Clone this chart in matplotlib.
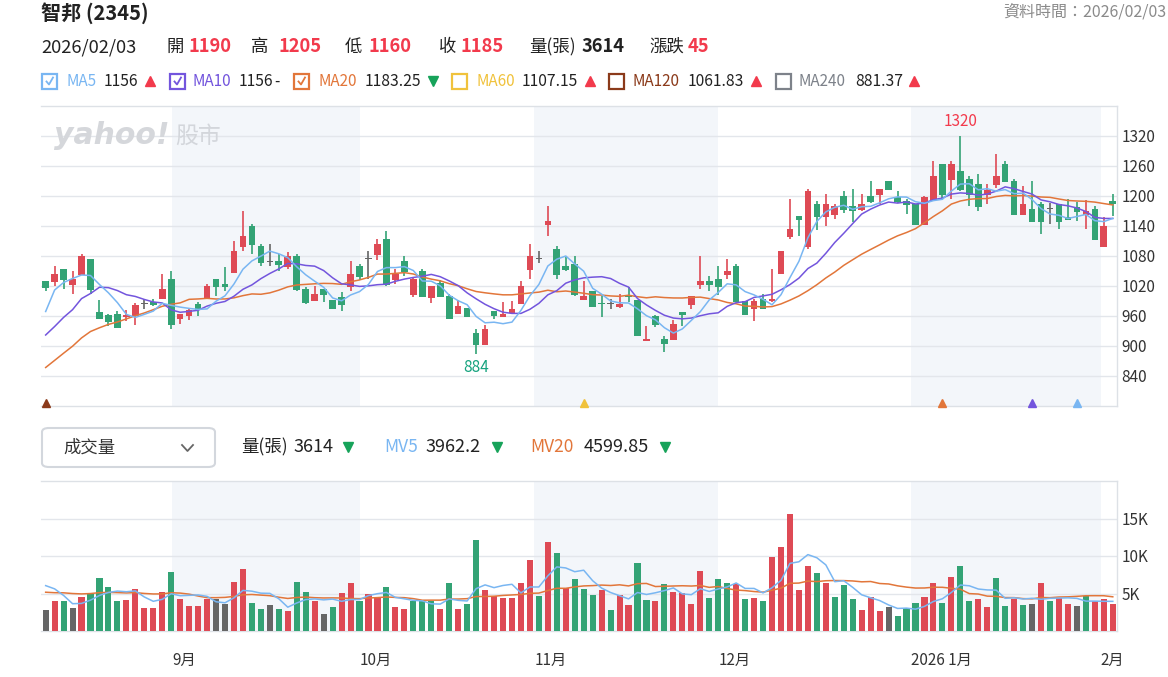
import numpy as np
import matplotlib
matplotlib.use('Agg')
import matplotlib.pyplot as plt
from matplotlib.patches import Rectangle, FancyBboxPatch
from matplotlib.lines import Line2D
import matplotlib.transforms as mtrans

plt.rcParams['font.family'] = ['Noto Sans CJK TC', 'DejaVu Sans']

# ---------------- data ----------------
opens = [1030, 1029, 1055, 1023, 1043, 1075, 968, 962, 965, 959,
         960, 985, 989, 995, 1035, 955, 960, 985, 994, 1035,
         1025, 1047, 1099, 1140, 1100, 1069, 1070, 1059, 1081, 1015,
         991, 1015, 992, 999, 1019, 1061, 1074, 1082, 1115, 1032,
         1070, 1002, 1050, 997, 1027, 1000, 965, 977, 927, 903,
         970, 959, 967, 985, 1053, 1074, 1143, 1095, 1061, 1065,
         992, 1011, 987, 984, 979, 1003, 992, 911, 960, 915,
         912, 969, 983, 1023, 1030, 1035, 1043, 1061, 990, 974,
         994, 991, 1044, 1119, 1160, 1099, 1185, 1159, 1163, 1200,
         1180, 1172, 1200, 1202, 1230, 1199, 1190, 1185, 1143, 1192,
         1265, 1233, 1250, 1235, 1225, 1202, 1222, 1265, 1230, 1162,
         1175, 1185, 1175, 1185, 1159, 1179, 1163, 1175, 1099, 1190]
highs = [1031, 1061, 1055, 1050, 1085, 1075, 992, 965, 970, 972,
         987, 994, 994, 1045, 1050, 965, 975, 989, 1025, 1035,
         1059, 1110, 1170, 1145, 1104, 1104, 1084, 1089, 1084, 1019,
         1020, 1015, 992, 1009, 1070, 1065, 1090, 1115, 1130, 1055,
         1080, 1039, 1055, 1020, 1032, 1005, 992, 977, 935, 942,
         970, 989, 990, 1030, 1105, 1090, 1180, 1100, 1079, 1080,
         1030, 1011, 1001, 994, 1005, 1019, 992, 940, 963, 920,
         952, 969, 1000, 1080, 1041, 1061, 1075, 1065, 990, 995,
         1005, 1055, 1090, 1195, 1160, 1215, 1190, 1205, 1185, 1210,
         1215, 1205, 1230, 1215, 1230, 1210, 1195, 1185, 1200, 1270,
         1265, 1270, 1320, 1240, 1245, 1225, 1285, 1270, 1235, 1220,
         1230, 1188, 1187, 1185, 1195, 1189, 1193, 1180, 1159, 1205]
lows = [1011, 1021, 1015, 1005, 1043, 1005, 955, 941, 937, 951,
        943, 975, 980, 995, 935, 945, 952, 960, 994, 1000,
        1011, 1047, 1090, 1085, 1061, 1061, 1051, 1055, 1011, 985,
        991, 989, 975, 971, 1011, 1032, 1035, 1072, 1020, 1025,
        1041, 999, 999, 987, 999, 955, 965, 959, 884, 903,
        955, 959, 965, 984, 1035, 1067, 1120, 1035, 1050, 1000,
        992, 979, 959, 975, 977, 989, 921, 911, 939, 889,
        912, 940, 975, 1015, 1010, 1002, 1035, 989, 963, 951,
        975, 989, 1044, 1115, 1120, 1095, 1132, 1140, 1155, 1167,
        1149, 1170, 1187, 1185, 1213, 1187, 1165, 1143, 1143, 1190,
        1192, 1195, 1210, 1180, 1171, 1185, 1217, 1229, 1162, 1162,
        1149, 1125, 1145, 1135, 1153, 1151, 1135, 1112, 1099, 1160]
closes = [1017, 1045, 1032, 1035, 1081, 1012, 955, 949, 937, 963,
          982, 985, 982, 1015, 942, 965, 972, 972, 1020, 1019,
          1019, 1090, 1120, 1103, 1067, 1069, 1063, 1081, 1012, 987,
          1005, 1002, 975, 983, 1045, 1039, 1074, 1104, 1022, 1045,
          1049, 1035, 999, 1020, 999, 955, 980, 959, 903, 935,
          961, 965, 975, 1020, 1081, 1074, 1150, 1043, 1052, 1002,
          1001, 979, 984, 984, 984, 999, 921, 915, 943, 905,
          945, 963, 1000, 1030, 1023, 1019, 1050, 989, 963, 990,
          975, 995, 1090, 1134, 1153, 1210, 1159, 1185, 1180, 1173,
          1170, 1185, 1189, 1215, 1213, 1189, 1183, 1143, 1199, 1240,
          1202, 1265, 1213, 1203, 1179, 1213, 1240, 1229, 1162, 1185,
          1149, 1149, 1175, 1149, 1153, 1169, 1170, 1112, 1140, 1185]
volumes = [2860, 3950, 3950, 3030, 4600, 5040, 7100, 5920, 3950, 4170,
           5620, 3030, 3030, 5260, 7900, 4300, 3290, 3290, 4300, 4300,
           3640, 6580, 8250, 3770, 2980, 3510, 2980, 2630, 6580, 5260,
           3950, 2330, 3160, 5090, 6450, 3950, 4960, 4430, 5920, 3160,
           2980, 3950, 4080, 3950, 2980, 6450, 2980, 3640, 12190, 5480,
           4610, 4430, 4430, 6450, 9430, 4610, 11840, 10400, 5750, 6930,
           5610, 4820, 5480, 2810, 4820, 3470, 9080, 4170, 3950, 6270,
           5260, 5090, 3640, 7940, 4430, 6930, 6450, 6270, 4300, 4430,
           3950, 9870, 11190, 15660, 5480, 8730, 7760, 6450, 4470, 6100,
           4300, 2810, 4470, 2630, 3160, 1970, 3030, 3770, 4470, 6450,
           3770, 7240, 8730, 3950, 4300, 3160, 7110, 3290, 4300, 3470,
           3640, 6450, 3950, 4430, 3640, 3290, 4610, 3950, 4300, 3614]
# change vs previous close: r = up, g = down, n = unchanged
vol_dir = ("nrgnrggggr" "rrrrgrrrrn" "nrrggngrgg" "rngrrgrrgr"
           "rgggrgrggr" "rrrrrgrgrg" "ggrgrrggrg" "rrrrgggrgr"
           "grrrrrgrgg" "grrrngggrr" "grggrrggrg" "nrgrrngrrr")
# closes / volumes of the 19 sessions before the visible window
pre_closes = [760, 745, 755, 750, 755, 805, 815, 840, 840, 855,
              875, 850, 880, 860, 910, 830, 957, 995, 1046]
pre_volumes = [5200, 4300, 4900, 5600, 4100, 4700, 5300, 4500, 5000, 4800,
               5200, 4400, 5100, 4850, 5200, 6100, 8350, 8530, 4410]

price_ticks = [840, 900, 960, 1020, 1080, 1140, 1200, 1260, 1320]
vol_ticks = [5000, 10000, 15000]
vol_tick_labels = ['5K', '10K', '15K']
month_labels = ['9月', '10月', '11月', '12月', '2026 1月', '2月']
month_pos = [14.1, 35.0, 54.5, 75.0, 96.5, 117.65]
shade_bands = [(14.1, 35.0), (54.5, 75.0), (96.5, 117.65)]
signal_idx = [0, 60, 100, 110, 115]
signal_colors = ['#8b3a1a', '#f0c23c', '#e2763a', '#7355dd', '#79b6f2']

# ---------------- style ----------------
RED = '#de4a55'
GREEN = '#33a375'
GRAY = '#666666'
C_MA5 = '#79b6f2'
C_MA10 = '#7355dd'
C_MA20 = '#e2763a'
C_MA60 = '#f0c23c'
C_MA120 = '#8b3a1a'
C_MA240 = '#7d828a'
SHADE = '#f3f6fa'
GRID = '#e3e6eb'
TXT = '#222222'
HRED = '#f23a4c'
HGREEN = '#17a35a'

W, H = 1168, 677
fig = plt.figure(figsize=(W / 100, H / 100), dpi=100)
fig.patch.set_facecolor('white')

N = len(closes)
x = np.arange(N)
o = np.array(opens, float)
c = np.array(closes, float)
hi = np.array(highs, float)
lo = np.array(lows, float)
v = np.array(volumes, float)


def sma(a, n):
    return np.convolve(a, np.ones(n) / n, mode='valid')


allc = np.array(pre_closes + closes, float)
ma5 = sma(allc, 5)[-N:]
ma10 = sma(allc, 10)[-N:]
ma20 = sma(allc, 20)[-N:]
allv = np.array(pre_volumes + volumes, float)
mv5 = sma(allv, 5)[-N:]
mv20 = sma(allv, 20)[-N:]

XL = (-0.52, 119.47)


def axbox(l, t, r, b):
    return [l / W, 1 - b / H, (r - l) / W, (b - t) / H]


def style_axis(ax):
    ax.set_xlim(*XL)
    ax.set_axisbelow(True)
    ax.grid(axis='y', color=GRID, lw=1.0)
    ax.grid(axis='x', visible=False)
    ax.spines['left'].set_visible(False)
    for s in ['top', 'bottom', 'right']:
        ax.spines[s].set_color('#dde1e6')
        ax.spines[s].set_linewidth(1.0)
    ax.yaxis.tick_right()
    ax.tick_params(axis='y', length=0, pad=3, labelsize=11, labelcolor='#333333')
    ax.set_xticks([])
    for a, b in shade_bands:
        ax.axvspan(a, b, color=SHADE, lw=0, zorder=0)


# ---------------- price panel ----------------
ax = fig.add_axes(axbox(41, 106, 1117, 406))
style_axis(ax)
ax.set_ylim(780, 1380)
ax.set_yticks(price_ticks)
ax.set_yticklabels([str(t) for t in price_ticks])

cols = [RED if cc > oo else (GREEN if cc < oo else GRAY) for oo, cc in zip(o, c)]
ax.vlines(x, lo, hi, colors=cols, lw=1.2, zorder=2)
body_b = np.minimum(o, c)
body_h = np.maximum(np.abs(c - o), 1.6)
ax.bar(x, body_h, bottom=body_b, width=0.74, color=cols, lw=0, zorder=3)

ax.plot(x, ma20, color=C_MA20, lw=1.1, zorder=4)
ax.plot(x, ma10, color=C_MA10, lw=1.1, zorder=4)
ax.plot(x, ma5, color=C_MA5, lw=1.1, zorder=4)

imax = int(np.argmax(hi))
imin = int(np.argmin(lo))
ax.text(imax, hi[imax] + 30, f'{int(hi[imax])}', color=HRED, ha='center', va='center', fontsize=11)
ax.text(imin, lo[imin] - 28, f'{int(lo[imin])}', color='#16a37f', ha='center', va='center', fontsize=11)

for si, sc in zip(signal_idx, signal_colors):
    ax.plot([si], [787], marker='^', ms=6, color=sc, mec=sc, clip_on=False, zorder=5)

# watermark
ax.text(0.012, 0.9, 'yahoo!', transform=ax.transAxes, fontsize=21.5, fontweight='heavy',
        style='italic', color='#d5d7db', family='DejaVu Sans', va='center', ha='left', zorder=1)
ax.text(0.125, 0.9, '股市', transform=ax.transAxes, fontsize=16.5, color='#d3d6db',
        va='center', ha='left', zorder=1)

# ---------------- volume panel ----------------
axv = fig.add_axes(axbox(41, 481, 1117, 631))
style_axis(axv)
axv.set_ylim(0, 20000)
axv.set_yticks(vol_ticks)
axv.set_yticklabels(vol_tick_labels)
dir_col = {'r': RED, 'g': GREEN, 'n': GRAY}
vcols = [dir_col[d] for d in vol_dir]
axv.bar(x, v, width=0.68, color=vcols, lw=0, zorder=3)
axv.plot(x, mv20, color=C_MA20, lw=1.1, zorder=4)
axv.plot(x, mv5, color=C_MA5, lw=1.1, zorder=4)

tr = mtrans.blended_transform_factory(axv.transData, axv.transAxes)
for mp, ml in zip(month_pos, month_labels):
    axv.text(mp, -(660 - 631) / 150, ml, transform=tr, ha='left', va='center',
             fontsize=11, color='#333333')


# ---------------- header texts ----------------
def ptxt(px, py, s, **kw):
    kw.setdefault('va', 'center')
    kw.setdefault('ha', 'left')
    kw.setdefault('color', TXT)
    fig.text(px / W, 1 - py / H, s, **kw)


def tri(px, py, up, color):
    fig.add_artist(Line2D([px / W], [1 - py / H], marker='^' if up else 'v', ms=7.5,
                          color=color, mec=color, lw=0, transform=fig.transFigure))


ptxt(41, 13, '智邦 (2345)', fontsize=14.5, fontweight='bold')
ptxt(1166, 12, '資料時間：2026/02/03', fontsize=11.5, color='#8a8a8a', ha='right')

L2 = 47
F2 = 12.5
ptxt(41, L2, '2026/02/03', fontsize=13.2)
for lab, lx, val, vx, vc in [('開', 167, '1190', 188, HRED), ('高', 251, '1205', 278, HRED),
                             ('低', 345, '1160', 369, HRED), ('收', 439, '1185', 460, HRED),
                             ('量(張)', 529, '3614', 581, TXT), ('漲跌', 649, '45', 688, HRED)]:
    ptxt(lx, L2, lab, fontsize=F2)
    ptxt(vx, L2, val, fontsize=13.2, fontweight='bold', color=vc)

# MA legend row
L3 = 81


def checkbox(px, py, color, checked):
    s = 15
    fig.add_artist(Rectangle((px / W, 1 - (py + s / 2) / H), s / W, s / H, fill=False,
                             edgecolor=color, lw=1.6, transform=fig.transFigure))
    if checked:
        xs = np.array([px + 4.5, px + 7, px + 11]) / W
        ys = 1 - np.array([py + 0.5, py + 3.5, py - 3.5]) / H
        fig.add_artist(Line2D(xs, ys, color=color, lw=1.3, transform=fig.transFigure))


legend = [(42, C_MA5, True, 'MA5', 66, '1156', 104, 'up', 150),
          (170, C_MA10, True, 'MA10', 193, '1156', 239, 'dash', 276),
          (294, C_MA20, True, 'MA20', 318, '1183.25', 365, 'down', 433),
          (452, C_MA60, False, 'MA60', 476, '1107.15', 522, 'up', 590),
          (609, C_MA120, False, 'MA120', 632, '1061.83', 688, 'up', 756),
          (776, C_MA240, False, 'MA240', 799, '881.37', 855, 'up', 914)]
for bx, col, chk, name, nx, val, vx, trend, tx in legend:
    checkbox(bx, L3, col, chk)
    ptxt(nx, L3, name, fontsize=11, color=col)
    ptxt(vx, L3, val, fontsize=11.3)
    if trend == 'up':
        tri(tx, L3, True, HRED)
    elif trend == 'down':
        tri(tx, L3, False, HGREEN)
    else:
        ptxt(tx - 2, L3, '-', fontsize=11)

# volume header
fig.add_artist(FancyBboxPatch((42 / W, 1 - 467 / H), 173 / W, 39 / H,
                              boxstyle='round,pad=0,rounding_size=0.006',
                              fill=False, edgecolor='#d3d7dd', lw=1.5,
                              transform=fig.transFigure))
ptxt(63, 448, '成交量', fontsize=12.5, color='#333333')
fig.add_artist(Line2D(np.array([182, 187.5, 193]) / W, 1 - np.array([445, 451, 445]) / H,
                      color='#666666', lw=1.3, transform=fig.transFigure))
LV = 447
ptxt(241, LV, '量(張)', fontsize=12.5)
ptxt(293, LV, '3614', fontsize=13)
tri(348, LV, False, HGREEN)
ptxt(384, LV, 'MV5', fontsize=12.5, color=C_MA5)
ptxt(425, LV, '3962.2', fontsize=13)
tri(497, LV, False, HGREEN)
ptxt(530, LV, 'MV20', fontsize=12.5, color=C_MA20)
ptxt(584, LV, '4599.85', fontsize=13)
tri(665, LV, False, HGREEN)

fig.savefig('out.png', dpi=100, facecolor='white')
